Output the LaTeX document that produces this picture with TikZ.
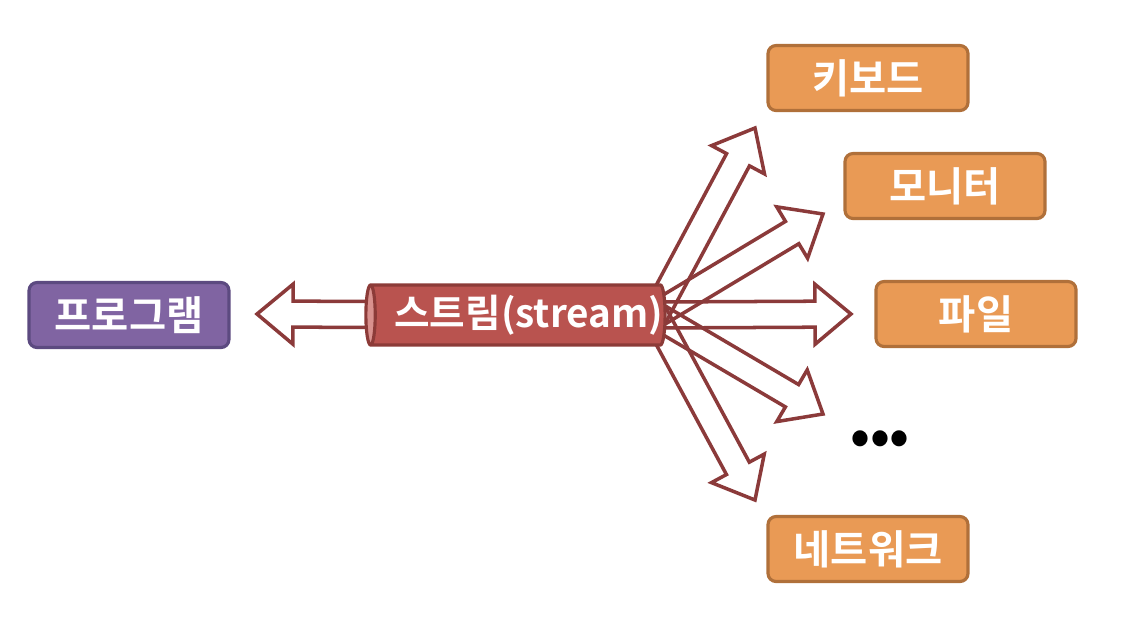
\documentclass[tikz,border=0pt]{standalone}
\usepackage{fontspec}
\setmainfont{Noto Sans CJK KR}[BoldFont={Noto Sans CJK KR Bold}]
\usetikzlibrary{calc,shapes.geometric,positioning}
\definecolor{stpurple}{HTML}{8064A2}
\definecolor{stpurpledark}{HTML}{5C4A80}
\definecolor{storange}{HTML}{E99A55}
\definecolor{storangedark}{HTML}{B0703A}
\definecolor{stred}{HTML}{B9534F}
\definecolor{streddark}{HTML}{8C3B38}
\definecolor{stredlight}{HTML}{D9918E}
\definecolor{starrow}{HTML}{8B3A3A}

% fat hollow arrow: #1 options, #2 from, #3 tip
\newcommand{\fatarrow}[3]{%
  \coordinate (fa-b) at ($(#3)!0.72cm!(#2)$);
  \path[#1] ($(#2)!0.26cm!90:(#3)$) -- ($(fa-b)!0.26cm!-90:(#2)$)
    -- ($(fa-b)!0.6cm!-90:(#2)$) -- (#3) -- ($(fa-b)!0.6cm!90:(#2)$)
    -- ($(fa-b)!0.26cm!90:(#2)$) -- ($(#2)!0.26cm!-90:(#3)$) -- cycle;}

\tikzset{
  box/.style={draw, rounded corners=0.16cm, line width=1.8pt, text=white,
    minimum width=4.0cm, minimum height=1.3cm,
    font=\bfseries\fontsize{23}{27}\selectfont},
  devbox/.style={box, fill=storange, draw=storangedark},
  pipe/.style={shape=cylinder, shape border rotate=180, aspect=0.18,
    draw=streddark, line width=1.8pt, cylinder uses custom fill,
    cylinder body fill=stred, cylinder end fill=stredlight, text=white,
    minimum height=5.95cm, minimum width=1.2cm, inner xsep=0pt,
    font=\bfseries\fontsize{22}{26}\selectfont},
  fatfill/.style={fill=white},
  fatline/.style={draw=starrow, line width=2pt, line join=miter}
}

\begin{document}
\begin{tikzpicture}[x=0.02cm, y=-0.02cm]
  \useasboundingbox (0,0) rectangle (1126,630);

  \node[box, fill=stpurple, draw=stpurpledark] (prog) at (129,315) {프로그램};
  \node[devbox] (kbd) at (868,78) {키보드};
  \node[devbox] (mon) at (945,186) {모니터};
  \node[devbox] (file) at (976,314) {파일};
  \node[devbox] (net) at (868,549) {네트워크};
  \node[font=\bfseries\fontsize{30}{36}\selectfont] (more) at (880,443) {•••};

  \coordinate (fan) at (655,315);
  \coordinate (progtip) at (257,314);
  \coordinate (kbdtip) at (755,128);
  \coordinate (montip) at (823,214);
  \coordinate (filetip) at (851,314);
  \coordinate (moretip) at (823,414);
  \coordinate (nettip) at (755,500);

  \fatarrow{fatfill, fatline}{518,315}{progtip}
  \foreach \t in {kbdtip, montip, filetip, moretip, nettip}
    \fatarrow{fatfill}{fan}{\t};
  \foreach \t in {kbdtip, montip, filetip, moretip, nettip}
    \fatarrow{fatline}{fan}{\t};

  \node[pipe] (stream) at (520,315) {\hspace{10pt}스트림(stream)};
\end{tikzpicture}
\end{document}
